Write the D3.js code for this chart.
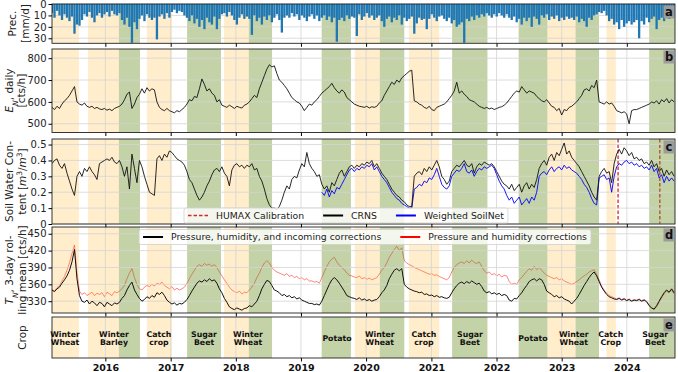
<!DOCTYPE html>
<html>
<head>
<meta charset="utf-8">
<script src="https://cdn.jsdelivr.net/npm/d3@7"></script>
<style>
  body { margin: 0; background: #fff; }
  svg { font-family: "DejaVu Sans", sans-serif; }
</style>
</head>
<body>
<svg id="chart" width="678" height="372"></svg>
<script>
// ---- data (one value every 14 days, rows ~ Mar..Feb) ----
const seriesStart = "2015-03-08";
const soilnetStart = "2019-04-28";
const stepDays = 14;

// max daily precipitation in each 14-day window [mm/d]
const prec = [
  8, 12, 6, 10, 14, 9, 12, 15, 11, 26, 18, 19, 14, 9, 11, 7, 12, 16, 10, 8, 12, 9, 7, 11, 6, 9,
  10, 8, 14, 18, 12, 20, 34, 16, 22, 13, 10, 15, 9, 12, 14, 12, 31, 11, 9, 13, 8, 12, 7, 5, 8, 6,
  7, 10, 12, 15, 10, 17, 13, 20, 14, 22, 12, 16, 18, 11, 22, 13, 9, 8, 11, 7, 10, 14, 18, 12, 9, 13,
  11, 13, 27, 10, 15, 12, 18, 11, 14, 10, 16, 12, 9, 14, 25, 12, 10, 12, 8, 11, 9, 14, 10, 12, 15, 11,
  9, 13, 10, 15, 12, 10, 14, 11, 16, 12, 33, 14, 12, 15, 10, 13, 11, 12, 28, 9, 14, 11, 8, 12, 10, 14,
  12, 10, 15, 20, 13, 11, 16, 12, 14, 10, 18, 12, 15, 13, 11, 26, 17, 12, 14, 13, 22, 13, 9, 12, 15, 11,
  10, 13, 15, 12, 17, 14, 20, 18, 16, 34, 13, 15, 11, 14, 10, 12, 9, 11, 8, 10, 12, 9, 11, 8, 10, 12,
  9, 12, 14, 11, 16, 13, 18, 12, 15, 12, 20, 11, 13, 18, 10, 12, 9, 14, 11, 13, 10, 15, 12, 14, 11, 13,
  12, 14, 11, 16, 13, 15, 20, 12, 14, 10, 9, 7, 8, 6, 10, 15, 13, 18, 16, 22, 14, 20, 17, 15, 18, 16,
  14, 30, 15, 18, 12, 16, 13, 11, 22, 14, 12, 15, 10, 13, 11, 12
];

// E_N daily [cts/h]
const enDaily = [
  575, 565, 580, 570, 590, 605, 615, 630, 650, 670, 600, 590, 585, 595, 580, 575, 580, 570, 575, 568, 565, 570, 562, 567, 560, 570,
  575, 580, 590, 610, 635, 645, 570, 590, 620, 635, 660, 640, 665, 650, 660, 655, 600, 575, 565, 560, 570, 560, 555, 550, 560, 555,
  565, 575, 590, 610, 605, 625, 620, 660, 705, 680, 650, 660, 640, 630, 600, 610, 585, 580, 575, 585, 578, 570, 580, 575, 572, 585,
  590, 600, 615, 630, 620, 660, 690, 720, 750, 770, 760, 765, 730, 700, 690, 675, 660, 640, 620, 610, 600, 595, 580, 560, 575, 590,
  585, 600, 610, 625, 640, 650, 660, 670, 685, 665, 650, 640, 655, 645, 620, 610, 600, 590, 585, 580, 578, 575, 580, 572, 578, 575,
  580, 595, 605, 630, 650, 670, 690, 680, 700, 690, 710, 720, 730, 740, 745, 605, 600, 590, 585, 575, 570, 580, 565, 560, 575, 580,
  585, 590, 600, 615, 630, 650, 690, 640, 650, 635, 625, 610, 605, 600, 590, 580, 575, 570, 575, 568, 572, 565, 570, 575, 578, 585,
  595, 610, 625, 640, 650, 645, 670, 655, 640, 650, 645, 640, 625, 615, 605, 600, 610, 595, 580, 575, 560, 570, 540, 565, 560, 575,
  580, 590, 600, 615, 630, 655, 660, 650, 675, 665, 700, 600, 595, 590, 600, 590, 595, 580, 560, 555, 550, 555, 545, 500, 560, 565,
  565, 570, 575, 580, 585, 590, 600, 595, 605, 590, 610, 600, 615, 595, 610, 600
];

// soil water content, CRNS [m3/m3]
const swcCrns = [
  0.38, 0.40, 0.41, 0.37, 0.35, 0.38, 0.32, 0.27, 0.22, 0.18, 0.30, 0.33, 0.30, 0.35, 0.33, 0.36, 0.33, 0.31, 0.28, 0.38, 0.39, 0.40, 0.41, 0.40, 0.42, 0.39,
  0.38, 0.40, 0.36, 0.30, 0.36, 0.22, 0.44, 0.35, 0.26, 0.40, 0.36, 0.30, 0.25, 0.20, 0.19, 0.18, 0.41, 0.43, 0.40, 0.44, 0.42, 0.46, 0.45, 0.43, 0.41, 0.40,
  0.39, 0.37, 0.33, 0.28, 0.26, 0.22, 0.18, 0.15, 0.17, 0.20, 0.24, 0.27, 0.31, 0.34, 0.35, 0.33, 0.36, 0.32, 0.30, 0.24, 0.34, 0.37, 0.38, 0.36, 0.37, 0.35,
  0.37, 0.36, 0.38, 0.34, 0.35, 0.30, 0.27, 0.22, 0.16, 0.12, 0.10, 0.10, 0.09, 0.11, 0.15, 0.20, 0.24, 0.22, 0.28, 0.30, 0.29, 0.34, 0.38, 0.36, 0.45, 0.38,
  0.35, 0.33, 0.30, 0.31, 0.25, 0.22, 0.24, 0.20, 0.26, 0.24, 0.28, 0.32, 0.34, 0.30, 0.33, 0.36, 0.37, 0.35, 0.37, 0.36, 0.38, 0.37, 0.39, 0.38, 0.40, 0.36,
  0.38, 0.35, 0.32, 0.30, 0.28, 0.25, 0.22, 0.20, 0.18, 0.17, 0.15, 0.14, 0.12, 0.11, 0.11, 0.30, 0.32, 0.33, 0.31, 0.35, 0.33, 0.36, 0.34, 0.37, 0.40, 0.36,
  0.30, 0.28, 0.25, 0.27, 0.33, 0.35, 0.37, 0.36, 0.38, 0.40, 0.37, 0.36, 0.38, 0.32, 0.36, 0.38, 0.37, 0.39, 0.38, 0.37, 0.38, 0.36, 0.33, 0.30, 0.27, 0.25,
  0.24, 0.22, 0.25, 0.21, 0.23, 0.25, 0.20, 0.24, 0.26, 0.22, 0.25, 0.23, 0.28, 0.35, 0.38, 0.40, 0.37, 0.42, 0.44, 0.40, 0.45, 0.43, 0.47, 0.51, 0.44, 0.46,
  0.42, 0.40, 0.38, 0.36, 0.33, 0.30, 0.27, 0.24, 0.20, 0.17, 0.15, 0.30, 0.33, 0.35, 0.32, 0.33, 0.26, 0.38, 0.44, 0.47, 0.44, 0.48, 0.46, 0.43, 0.45, 0.41,
  0.42, 0.40, 0.41, 0.38, 0.39, 0.37, 0.40, 0.36, 0.38, 0.33, 0.35, 0.30, 0.34, 0.31, 0.33, 0.30
];

// soil water content, weighted SoilNet [m3/m3], from soilnetStart
const swcSoilnet = [
  0.20, 0.18, 0.22, 0.17, 0.21, 0.19, 0.23, 0.22, 0.25, 0.28, 0.31, 0.34, 0.35, 0.33, 0.35, 0.34, 0.36, 0.35, 0.37, 0.36, 0.38, 0.34,
  0.36, 0.33, 0.30, 0.28, 0.26, 0.23, 0.20, 0.18, 0.16, 0.15, 0.13, 0.12, 0.11, 0.10, 0.10, 0.22, 0.23, 0.25, 0.24, 0.27, 0.26, 0.29, 0.28, 0.31, 0.35, 0.30,
  0.25, 0.23, 0.22, 0.24, 0.30, 0.32, 0.34, 0.33, 0.35, 0.38, 0.33, 0.32, 0.34, 0.30, 0.33, 0.35, 0.34, 0.36, 0.35, 0.36, 0.37, 0.35, 0.31, 0.27, 0.24, 0.22,
  0.18, 0.15, 0.17, 0.13, 0.15, 0.17, 0.12, 0.14, 0.16, 0.13, 0.17, 0.15, 0.20, 0.30, 0.32, 0.33, 0.31, 0.34, 0.36, 0.33, 0.35, 0.36, 0.34, 0.37, 0.35, 0.36,
  0.34, 0.33, 0.32, 0.30, 0.28, 0.25, 0.23, 0.20, 0.16, 0.13, 0.12, 0.29, 0.30, 0.31, 0.28, 0.29, 0.20, 0.30, 0.36, 0.38, 0.37, 0.39, 0.40, 0.38, 0.39, 0.37,
  0.38, 0.36, 0.37, 0.35, 0.36, 0.34, 0.37, 0.33, 0.35, 0.29, 0.31, 0.26, 0.30, 0.27, 0.29, 0.27
];

// T_N 3-day rolling mean, pressure + humidity + incoming corrections [cts/h]
const tnAll = [
  350, 347, 352, 355, 362, 368, 375, 385, 400, 422, 370, 340, 330, 328, 332, 325, 330, 327, 322, 328, 326, 320, 328, 325, 322, 327,
  325, 328, 335, 340, 350, 358, 364, 350, 342, 335, 330, 333, 338, 335, 340, 337, 345, 342, 346, 340, 332, 328, 325, 327, 323, 326,
  325, 328, 333, 340, 348, 355, 362, 366, 364, 368, 365, 370, 366, 368, 362, 352, 345, 335, 328, 320, 317, 315, 318, 316, 314, 317,
  318, 322, 320, 325, 330, 340, 352, 360, 367, 365, 358, 350, 348, 345, 340, 342, 338, 340, 336, 338, 334, 336, 332, 330, 328, 326,
  326, 324, 325, 323, 330, 340, 350, 360, 368, 372, 368, 362, 355, 348, 340, 338, 336, 335, 333, 336, 332, 334, 331, 333, 330, 332,
  333, 338, 345, 350, 358, 370, 378, 385, 388, 384, 388, 360, 355, 352, 350, 348, 347, 345, 346, 342, 343, 340, 341, 338, 340, 337,
  338, 336, 335, 337, 345, 352, 358, 362, 364, 361, 365, 362, 366, 363, 360, 362, 356, 348, 345, 347, 343, 345, 342, 344, 340, 342,
  340, 332, 330, 335, 334, 340, 345, 352, 358, 365, 368, 370, 366, 370, 368, 360, 348, 345, 342, 338, 340, 336, 338, 334, 332, 330,
  325, 330, 335, 342, 350, 358, 365, 372, 378, 382, 375, 365, 355, 348, 342, 338, 336, 334, 333, 335, 332, 334, 331, 333, 330, 332,
  331, 333, 330, 332, 329, 322, 318, 316, 322, 330, 338, 345, 350, 346, 352, 345
];

// T_N 3-day rolling mean, pressure + humidity corrections only [cts/h]
const tnPH = [
  350, 348, 354, 358, 366, 374, 385, 398, 415, 430, 380, 348, 342, 345, 340, 343, 346, 340, 344, 342, 345, 338, 346, 343, 340, 347,
  345, 348, 352, 358, 370, 380, 388, 372, 360, 352, 350, 355, 358, 356, 360, 357, 362, 360, 364, 358, 355, 352, 356, 350, 353, 350,
  352, 355, 362, 370, 378, 385, 392, 395, 392, 397, 394, 396, 392, 395, 390, 382, 375, 368, 362, 355, 350, 347, 345, 348, 343, 346,
  345, 350, 355, 362, 372, 380, 390, 398, 402, 398, 390, 385, 382, 380, 378, 376, 379, 374, 376, 372, 374, 370, 372, 368, 370, 366,
  366, 364, 365, 362, 372, 382, 392, 400, 405, 408, 400, 394, 390, 386, 380, 376, 375, 373, 372, 375, 370, 372, 369, 371, 368, 370,
  372, 378, 385, 390, 398, 408, 415, 422, 428, 420, 425, 402, 398, 395, 393, 390, 388, 386, 384, 382, 380, 378, 379, 376, 377, 374,
  372, 370, 368, 372, 382, 390, 395, 398, 400, 397, 402, 398, 403, 399, 397, 400, 392, 384, 380, 382, 377, 379, 375, 378, 373, 376,
  375, 365, 360, 362, 360, 368, 372, 378, 383, 388, 385, 392, 386, 390, 385, 380, 376, 374, 372, 370, 372, 368, 370, 366, 364, 362,
  360, 362, 365, 368, 372, 375, 378, 382, 384, 386, 378, 368, 357, 350, 344, 340, 338, 336, 334, 336, 333, 335, 332, 334, 331, 333,
  332, 334, 331, 333, 330, 324, 318, 315, 320, 328, 336, 343, 348, 345, 350, 343
];

// crop periods: [start, end, phase]
const cropPeriods = [
  ["2015-03-01", "2015-08-06", "sown"],
  ["2015-09-26", "2016-03-17", "sown"],
  ["2016-03-17", "2016-07-13", "grown"],
  ["2016-08-21", "2017-01-09", "sown"],
  ["2017-04-03", "2017-10-10", "grown"],
  ["2017-10-27", "2018-03-15", "sown"],
  ["2018-03-15", "2018-07-23", "grown"],
  ["2019-04-27", "2019-10-08", "grown"],
  ["2019-10-30", "2020-03-18", "sown"],
  ["2020-03-18", "2020-08-02", "grown"],
  ["2020-08-28", "2021-02-14", "sown"],
  ["2021-04-27", "2021-11-11", "grown"],
  ["2022-05-05", "2022-10-13", "grown"],
  ["2022-10-13", "2023-03-20", "sown"],
  ["2023-03-20", "2023-07-29", "grown"],
  ["2023-09-09", "2023-10-31", "sown"],
  ["2024-05-05", "2024-10-01", "grown"]
];

// crop names and the date they are centred on
const cropNames = [
  ["Winter Wheat", "2015-05-20"],
  ["Winter Barley", "2016-02-18"],
  ["Catch crop", "2016-10-27"],
  ["Sugar Beet", "2017-07-07"],
  ["Winter Wheat", "2018-03-10"],
  ["Potato", "2019-07-22"],
  ["Winter Wheat", "2020-03-18"],
  ["Catch crop", "2020-11-20"],
  ["Sugar Beet", "2021-08-05"],
  ["Potato", "2022-07-24"],
  ["Winter Wheat", "2023-03-10"],
  ["Catch Crop", "2023-10-03"],
  ["Sugar Beet", "2024-06-08"]
];

const humaxDates = ["2023-11-13", "2024-07-04"];
const years = [2016, 2017, 2018, 2019, 2020, 2021, 2022, 2023, 2024];

const precTicks = [0, 10, 20, 30];
const enTicks = [500, 600, 700, 800];
const swcTicks = [0, 0.1, 0.2, 0.3, 0.4, 0.5];
const tnTicks = [330, 360, 390, 420, 450];

// ---- drawing ----
const svg = d3.select("#chart");
const left = 52, right = 675;
const parse = d3.utcParse("%Y-%m-%d");
const dateAt = (start, i) => d3.utcDay.offset(parse(start), i * stepDays);
const yearDates = years.map(y => new Date(Date.UTC(y, 0, 1)));

const x = d3.scaleUtc()
    .domain([parse("2015-03-08"), parse("2024-09-27")])
    .range([left, right]);

const phaseFill = { sown: "orange", grown: "olivedrab" };
const phaseOpacity = { sown: 0.2, grown: 0.4 };

function makePanel(id, top, bottom, y, ticks, fmt) {
    const g = svg.append("g");
    svg.append("clipPath").attr("id", "clip-" + id)
        .append("rect")
        .attr("x", left).attr("y", top)
        .attr("width", right - left).attr("height", bottom - top);
    const clip = `url(#clip-${id})`;

    const under = g.append("g").attr("clip-path", clip);

    g.append("g").attr("clip-path", clip)
        .selectAll("rect")
        .data(cropPeriods)
        .join("rect")
        .attr("x", d => x(parse(d[0])))
        .attr("width", d => x(parse(d[1])) - x(parse(d[0])))
        .attr("y", top)
        .attr("height", bottom - top)
        .attr("fill", d => phaseFill[d[2]])
        .attr("fill-opacity", d => phaseOpacity[d[2]]);

    const grid = g.append("g").attr("stroke", "#d4d4d4").attr("stroke-width", 0.8);
    grid.selectAll(".gx").data(yearDates).join("line")
        .attr("x1", d => x(d)).attr("x2", d => x(d))
        .attr("y1", top).attr("y2", bottom);
    if (y) {
        grid.selectAll(".gy").data(ticks).join("line")
            .attr("x1", left).attr("x2", right)
            .attr("y1", d => y(d)).attr("y2", d => y(d));
    }

    const over = g.append("g").attr("clip-path", clip);

    g.append("rect")
        .attr("x", left).attr("y", top)
        .attr("width", right - left).attr("height", bottom - top)
        .attr("fill", "none").attr("stroke", "#222").attr("stroke-width", 0.9);

    const xa = g.append("g")
        .attr("transform", `translate(0,${bottom})`)
        .call(d3.axisBottom(x).tickValues(yearDates).tickSize(3.5).tickPadding(2.5)
            .tickFormat(id === "e" ? d3.utcFormat("%Y") : ""));
    xa.select(".domain").remove();
    xa.selectAll("text").attr("font-size", 9.5).attr("font-weight", "bold")
        .attr("font-family", "DejaVu Sans").attr("fill", "#111");

    if (y) {
        const ya = g.append("g")
            .attr("transform", `translate(${left},0)`)
            .call(d3.axisLeft(y).tickValues(ticks).tickSize(3.5).tickPadding(2).tickFormat(fmt));
        ya.select(".domain").remove();
        ya.selectAll("text").attr("font-size", 10).attr("font-family", "DejaVu Sans").attr("fill", "#222");
    }

    // panel letter
    g.append("rect")
        .attr("x", right - 11.5).attr("y", top + 1.5)
        .attr("width", 11).attr("height", 13)
        .attr("fill", "#9c9c9c");
    g.append("text")
        .attr("x", right - 6).attr("y", top + 11.8)
        .attr("text-anchor", "middle")
        .attr("font-size", 11.5).attr("font-weight", "bold")
        .attr("fill", "#111")
        .text(id);

    return { g, under, over };
}

function yLabel(lines, xs, cy) {
    lines.forEach((parts, i) => {
        const t = svg.append("text")
            .attr("transform", `translate(${xs[i]},${cy}) rotate(-90)`)
            .attr("text-anchor", "middle")
            .attr("dy", "0.35em")
            .attr("font-size", 10.5)
            .attr("fill", "#222");
        parts.forEach(p => {
            const s = t.append("tspan").text(p.t);
            if (p.i) s.attr("font-style", "italic");
            if (p.sub) s.attr("font-size", 7.5).attr("baseline-shift", "sub");
            if (p.sup) s.attr("font-size", 7.5).attr("baseline-shift", "super");
        });
    });
}

function legend(parent, items, cx, top) {
    const lg = parent.append("g");
    const box = lg.append("rect");
    let cursor = 0;
    items.forEach(it => {
        const gi = lg.append("g").attr("transform", `translate(${cursor},0)`);
        gi.append("line").attr("x1", 0).attr("x2", 20).attr("y1", 0).attr("y2", 0)
            .attr("stroke", it.color).attr("stroke-width", it.width)
            .attr("stroke-dasharray", it.dash || null);
        const tx = gi.append("text").attr("x", 28).attr("dy", "0.35em")
            .attr("font-size", 9.3).attr("fill", "#222").text(it.label);
        cursor += 28 + tx.node().getComputedTextLength() + 19;
    });
    const w = cursor - 19 + 8;
    const x0 = cx - w / 2;
    lg.attr("transform", `translate(${x0 + 4},${top + 7.5})`);
    box.attr("x", -4).attr("y", -7.5).attr("width", w).attr("height", 15).attr("rx", 2)
        .attr("fill", "#fff").attr("fill-opacity", 0.8)
        .attr("stroke", "#cfcfcf").attr("stroke-width", 0.8);
}

// panel a: precipitation
const yA = d3.scaleLinear().domain([0, 34.4]).range([4, 43.3]);
const pa = makePanel("a", 4, 43.3, yA, precTicks, d3.format("d"));
pa.over.selectAll("rect").data(prec).join("rect")
    .attr("x", (d, i) => x(dateAt(seriesStart, i)) - 1.15)
    .attr("width", 2.3)
    .attr("y", yA(0))
    .attr("height", d => yA(d) - yA(0))
    .attr("fill", "#1f77b4");
yLabel([[{ t: "Prec." }], [{ t: "[mm/d]" }]], [12, 25], 23.5);

// panel b: E_N
const yB = d3.scaleLinear().domain([460, 842]).range([132.5, 49]);
const pb = makePanel("b", 49, 132.5, yB, enTicks, d3.format("d"));
pb.over.append("path")
    .datum(enDaily)
    .attr("fill", "none").attr("stroke", "#111").attr("stroke-width", 0.9)
    .attr("d", d3.line().x((d, i) => x(dateAt(seriesStart, i))).y(d => yB(d)));
yLabel([[{ t: "E", i: true }, { t: "N", i: true, sub: true }, { t: ", daily" }], [{ t: "[cts/h]" }]], [9, 21.5], 90.5);

// panel c: soil water content
const yC = d3.scaleLinear().domain([0, 0.535]).range([224, 139]);
const pc = makePanel("c", 139, 224, yC, swcTicks, d => d === 0 ? "0" : d3.format(".1f")(d));
pc.under.selectAll("line").data(humaxDates).join("line")
    .attr("x1", d => x(parse(d))).attr("x2", d => x(parse(d)))
    .attr("y1", 139).attr("y2", 224)
    .attr("stroke", "#d62728").attr("stroke-width", 1.3).attr("stroke-dasharray", "3.5,2");
pc.over.append("path")
    .datum(swcSoilnet)
    .attr("fill", "none").attr("stroke", "blue").attr("stroke-width", 0.9)
    .attr("d", d3.line().x((d, i) => x(dateAt(soilnetStart, i))).y(d => yC(d)));
pc.over.append("path")
    .datum(swcCrns)
    .attr("fill", "none").attr("stroke", "#111").attr("stroke-width", 0.9)
    .attr("d", d3.line().x((d, i) => x(dateAt(seriesStart, i))).y(d => yC(d)));
yLabel([[{ t: "Soil Water Con-" }], [{ t: "tent [" }, { t: "m", i: true }, { t: "3", sup: true }, { t: "/" }, { t: "m", i: true }, { t: "3", sup: true }, { t: "]" }]], [9, 22], 181.5);

// panel d: T_N
const yD = d3.scaleLinear().domain([309, 462]).range([313, 227]);
const pd = makePanel("d", 227, 313, yD, tnTicks, d3.format("d"));
pd.under.append("path")
    .datum(tnPH)
    .attr("fill", "none").attr("stroke", "red").attr("stroke-opacity", 0.55).attr("stroke-width", 0.9)
    .attr("d", d3.line().x((d, i) => x(dateAt(seriesStart, i))).y(d => yD(d)));
pd.over.append("path")
    .datum(tnAll)
    .attr("fill", "none").attr("stroke", "#111").attr("stroke-width", 1)
    .attr("d", d3.line().x((d, i) => x(dateAt(seriesStart, i))).y(d => yD(d)));
yLabel([[{ t: "T", i: true }, { t: "N", i: true, sub: true }, { t: ", 3-day rol-" }], [{ t: "ling mean [cts/h]" }]], [9, 22], 270);

// panel e: crops
const pe = makePanel("e", 317, 358, null, null, null);
cropNames.forEach(([name, centre]) => {
    const words = name.split(" ");
    const cx = x(parse(centre));
    const t = pe.g.append("text")
        .attr("text-anchor", "middle")
        .attr("font-size", 7.8).attr("font-weight", "bold").attr("fill", "#111");
    if (words.length === 1) {
        t.append("tspan").attr("x", cx).attr("y", 340.8).text(words[0]);
    } else {
        t.append("tspan").attr("x", cx).attr("y", 336.6).text(words[0]);
        t.append("tspan").attr("x", cx).attr("y", 344.8).text(words[1]);
    }
});
yLabel([[{ t: "Crop" }]], [22], 337.5);

// legends
legend(svg, [
    { label: "HUMAX Calibration", color: "#d62728", width: 1.4, dash: "3.5,2" },
    { label: "CRNS", color: "#000", width: 2 },
    { label: "Weighted SoilNet", color: "blue", width: 2 }
], 346, 208);

legend(svg, [
    { label: "Pressure, humidity, and incoming corrections", color: "#000", width: 2 },
    { label: "Pressure and humidity corrections", color: "red", width: 2 }
], 365, 229.5);
</script>
</body>
</html>
